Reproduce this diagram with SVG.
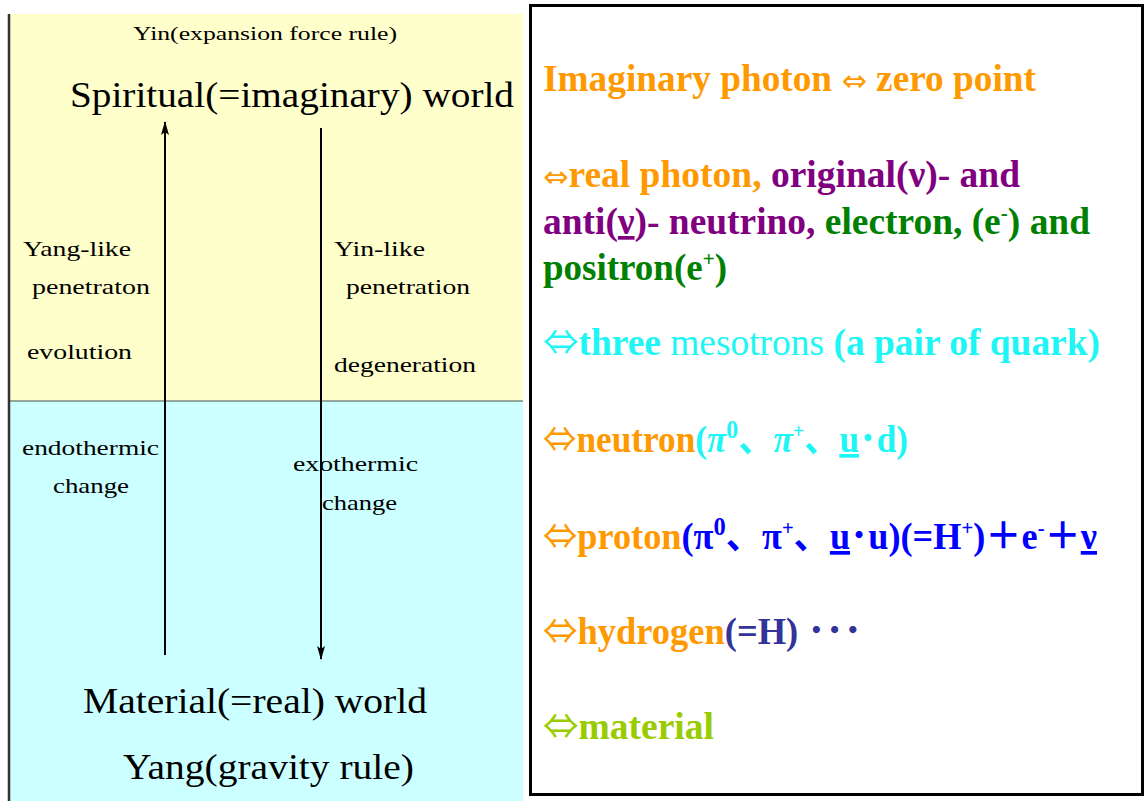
<svg xmlns="http://www.w3.org/2000/svg" width="1148" height="801" viewBox="0 0 1148 801">
<style>
.l{font-family:"Liberation Serif","Times New Roman",serif;fill:#000}
.s{font-size:21px}
.b{font-size:35px}
.r{font-family:"Liberation Serif","Times New Roman","Noto Sans CJK JP",serif;font-weight:bold;font-size:37px}
.ar{font-family:"Noto Sans CJK JP",sans-serif;font-weight:normal;font-size:35px}
.sa{font-family:"DejaVu Sans",sans-serif;font-weight:normal;font-size:30px}
.or{fill:#FF9900}.pu{fill:#800080}.gr{fill:#008000}.cy{fill:#1EF5F5}.bl{fill:#0000FF}.db{fill:#333399}.yg{fill:#99CC00}
.conn{stroke:#000;stroke-width:2;fill:none}
</style>
<defs>
<marker id="ah" viewBox="0 0 14 8" refX="13" refY="4" markerWidth="14" markerHeight="8" markerUnits="userSpaceOnUse" orient="auto">
<path d="M14,4 L0,0 L3,4 L0,8 Z" fill="#000"/>
</marker>
</defs>
<rect width="1148" height="801" fill="#fff"/>
<g id="left-panel">
<rect x="9" y="14" width="514" height="387" fill="#FFFFCC"/>
<rect x="9" y="401" width="514" height="400" fill="#CCFFFF"/>
<line x1="9" y1="401" x2="523" y2="401" stroke="#7a8a80" stroke-width="1.5"/>
<line x1="9" y1="14" x2="9" y2="801" stroke="#333" stroke-width="2.5"/>
</g>
<g id="spiritual">
<text class="l" x="133" y="40" font-size="19" textLength="264" lengthAdjust="spacingAndGlyphs">Yin(expansion force rule)</text>
<text class="l b" x="70" y="107" textLength="444" lengthAdjust="spacingAndGlyphs">Spiritual(=imaginary) world</text>
</g>
<g id="yang-like">
<text class="l s" x="23" y="256" textLength="108" lengthAdjust="spacingAndGlyphs">Yang-like</text>
<text class="l s" x="32" y="294" textLength="118" lengthAdjust="spacingAndGlyphs">penetraton</text>
<text class="l s" x="27" y="359" textLength="105" lengthAdjust="spacingAndGlyphs">evolution</text>
</g>
<g id="yin-like">
<text class="l s" x="334" y="256" textLength="91" lengthAdjust="spacingAndGlyphs">Yin-like</text>
<text class="l s" x="346" y="294" textLength="124" lengthAdjust="spacingAndGlyphs">penetration</text>
<text class="l s" x="334" y="372" textLength="142" lengthAdjust="spacingAndGlyphs">degeneration</text>
</g>
<g id="endothermic">
<text class="l s" x="22" y="455" textLength="137" lengthAdjust="spacingAndGlyphs">endothermic</text>
<text class="l s" x="53" y="493" textLength="76" lengthAdjust="spacingAndGlyphs">change</text>
</g>
<g id="exothermic">
<text class="l s" x="293" y="471" textLength="125" lengthAdjust="spacingAndGlyphs">exothermic</text>
<text class="l s" x="322" y="510" textLength="75" lengthAdjust="spacingAndGlyphs">change</text>
</g>
<g id="material">
<text class="l b" x="83" y="713" textLength="344" lengthAdjust="spacingAndGlyphs">Material(=real) world</text>
<text class="l b" x="123" y="779" textLength="291" lengthAdjust="spacingAndGlyphs">Yang(gravity rule)</text>
</g>
<g id="connectors">
<line class="conn" x1="165" y1="655" x2="165" y2="122" marker-end="url(#ah)"/>
<line class="conn" x1="321" y1="128" x2="321" y2="659" marker-end="url(#ah)"/>
</g>
<g id="right-panel">
<rect x="530.5" y="5.5" width="612" height="789" fill="#fff" stroke="#000" stroke-width="3"/>
<text class="r or" x="543" y="91" textLength="493" lengthAdjust="spacingAndGlyphs">Imaginary photon <tspan class="sa">⇔</tspan> zero point</text>
<text class="r" x="543" y="187" textLength="477" lengthAdjust="spacingAndGlyphs"><tspan class="or sa">⇔</tspan><tspan class="or">real photon, </tspan><tspan class="pu">original(ν)- and</tspan></text>
<text class="r" x="543" y="234" textLength="547" lengthAdjust="spacingAndGlyphs"><tspan class="pu">anti(</tspan><tspan class="pu" text-decoration="underline">ν</tspan><tspan class="pu">)- neutrino, </tspan><tspan class="gr">electron, (e</tspan><tspan class="gr" font-size="21" dy="-14">-</tspan><tspan class="gr" dy="14">) and</tspan></text>
<text class="r gr" x="543" y="280" textLength="184" lengthAdjust="spacingAndGlyphs">positron(e<tspan font-size="21" dy="-14">+</tspan><tspan dy="14">)</tspan></text>
<text class="r cy" x="543" y="355" textLength="557" lengthAdjust="spacingAndGlyphs"><tspan class="ar">⇔</tspan>three<tspan font-weight="normal"> mesotrons</tspan> (a pair of quark)</text>
<text class="r" x="543" y="452" textLength="365" lengthAdjust="spacingAndGlyphs"><tspan class="or ar">⇔</tspan><tspan class="or">neutron</tspan><tspan class="cy">(<tspan font-style="italic">π</tspan><tspan font-size="25" dy="-14">0</tspan><tspan dy="14">、</tspan><tspan font-style="italic">π</tspan><tspan font-size="21" dy="-14">+</tspan><tspan dy="14">、</tspan><tspan text-decoration="underline">u</tspan>･d)</tspan></text>
<text class="r" x="543" y="549" textLength="554" lengthAdjust="spacingAndGlyphs"><tspan class="or ar">⇔</tspan><tspan class="or">proton</tspan><tspan class="bl">(π<tspan font-size="25" dy="-14">0</tspan><tspan dy="14">、π</tspan><tspan font-size="21" dy="-14">+</tspan><tspan dy="14">、</tspan><tspan text-decoration="underline">u</tspan>･u)(=H<tspan font-size="21" dy="-14">+</tspan><tspan dy="14">)＋e</tspan><tspan font-size="21" dy="-14">-</tspan><tspan dy="14">＋</tspan><tspan text-decoration="underline">ν</tspan></tspan></text>
<text class="r" x="543" y="644" textLength="319" lengthAdjust="spacingAndGlyphs"><tspan class="or ar">⇔</tspan><tspan class="or">hydrogen</tspan><tspan class="db">(=H)  ･･･</tspan></text>
<text class="r yg" x="543" y="739" textLength="171" lengthAdjust="spacingAndGlyphs"><tspan class="ar">⇔</tspan>material</text>
</g>
</svg>
